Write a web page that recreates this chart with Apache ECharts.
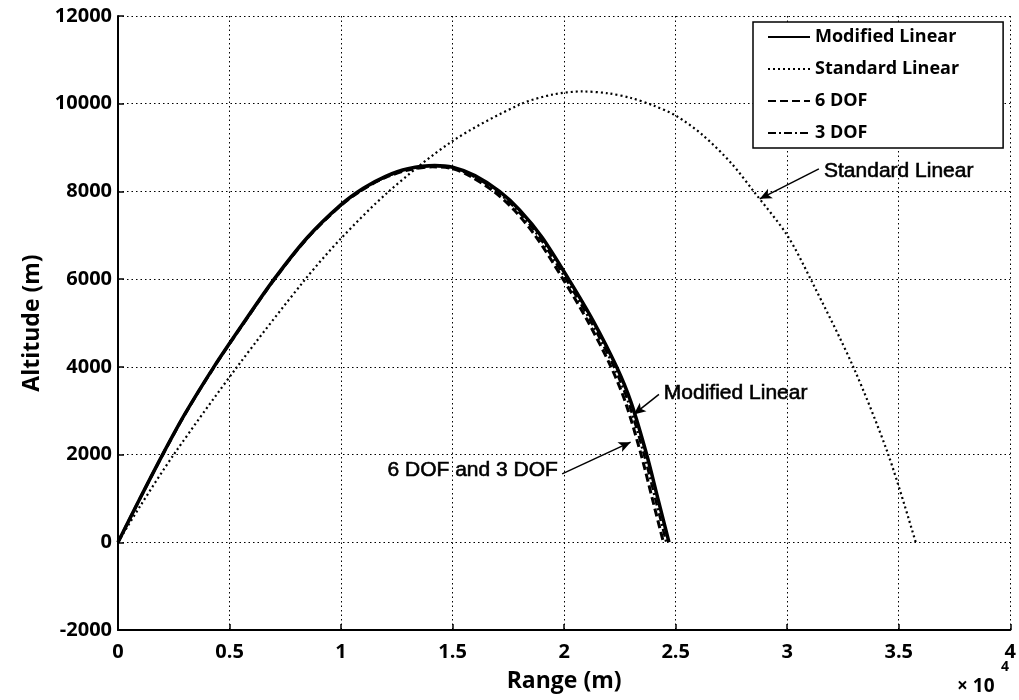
<!DOCTYPE html>
<html>
<head>
<meta charset="utf-8">
<script src="https://cdn.jsdelivr.net/npm/echarts@6/dist/echarts.min.js"></script>
<style>
  html, body { margin: 0; padding: 0; background: #fff; }
  #chart { width: 1019px; height: 700px; }
</style>
</head>
<body>
<div id="chart"></div>
<script>
// range in units of 10^4 m, altitude in m
var modifiedLinear = [
  [0, 0], [0.1, 1015], [0.2, 2000], [0.3, 2927], [0.43, 4000], [0.55, 4908],
  [0.7, 6000], [0.85, 6956], [1.0, 7700], [1.1, 8073], [1.2, 8345], [1.3, 8516],
  [1.42, 8590], [1.5, 8550], [1.6, 8360], [1.71, 8000], [1.8, 7580], [1.9, 6960],
  [2.02, 6000], [2.13, 5050], [2.235, 4000], [2.3, 3190], [2.37, 2000], [2.42, 1000],
  [2.47, 0]
];
var standardLinear = [
  [0, 0], [0.1, 830], [0.25, 2000], [0.534, 4000], [0.84, 6000], [1.0, 6930],
  [1.214, 8000], [1.5, 9150], [1.8, 9980], [1.95, 10210], [2.08, 10280], [2.2, 10235],
  [2.3, 10130], [2.4, 9960], [2.5, 9730], [2.62, 9290], [2.75, 8640], [2.85, 8000],
  [3.0, 7000], [3.105, 6000], [3.296, 4000], [3.453, 2000], [3.576, 0]
];
var sixDof = [
  [0, 0], [0.1, 1012], [0.2, 1995], [0.3, 2920], [0.43, 3992], [0.55, 4898],
  [0.7, 5988], [0.85, 6942], [1.0, 7684], [1.1, 8052], [1.2, 8320], [1.3, 8488],
  [1.41, 8560], [1.5, 8520], [1.575, 8360], [1.685, 8000], [1.775, 7580], [1.875, 6960],
  [1.995, 6000], [2.105, 5050], [2.21, 4000], [2.275, 3190], [2.345, 2000], [2.395, 1000],
  [2.445, 0]
];
var threeDof = [
  [0, 0], [0.1, 1013], [0.2, 1997], [0.3, 2923], [0.43, 3995], [0.55, 4902],
  [0.7, 5993], [0.85, 6948], [1.0, 7690], [1.1, 8060], [1.2, 8330], [1.3, 8500],
  [1.415, 8575], [1.5, 8535], [1.588, 8360], [1.698, 8000], [1.788, 7580], [1.888, 6960],
  [2.008, 6000], [2.118, 5050], [2.223, 4000], [2.288, 3190], [2.358, 2000], [2.408, 1000],
  [2.458, 0]
];
var xTicks = [0, 4, 0.5];
var yTicks = [-2000, 12000, 2000];

// annotation texts and arrows
var notes = [
  { name: 'Standard Linear', value: [3.156, 8470], pos: 'right' },
  { name: 'Modified Linear', value: [2.438, 3400], pos: 'right' },
  { name: '6 DOF and 3 DOF', value: [1.981, 1640], pos: 'left' }
];
var arrows = [
  [[3.142, 8516], [2.877, 7831]],
  [[2.425, 3372], [2.312, 2915]],
  [[1.991, 1559], [2.298, 2283]]
];

var chart = echarts.init(document.getElementById('chart'));
var tickFont = { fontFamily: 'Open Sans', fontWeight: 'bold', fontSize: 20, color: '#000' };
var noteFont = {
  color: '#000', opacity: 1, fontFamily: 'Liberation Sans', fontSize: 21,
  textBorderColor: '#000', textBorderWidth: 0.6
};

var option = {
  animation: false,
  backgroundColor: '#fff',
  grid: { left: 118, right: 7, top: 16, bottom: 70, containLabel: false },
  legend: {
    orient: 'vertical',
    left: 753,
    top: 22,
    data: ['Modified Linear', 'Standard Linear', '6 DOF', '3 DOF'],
    backgroundColor: '#fff',
    borderColor: '#000',
    borderWidth: 1.5,
    borderRadius: 0,
    padding: [6, 44, 6, 14],
    itemWidth: 42,
    itemHeight: 14,
    itemGap: 14,
    itemStyle: { opacity: 0 },
    textStyle: { fontFamily: 'Open Sans', fontWeight: 'bold', fontSize: 18, color: '#000' }
  },
  xAxis: {
    type: 'value',
    min: xTicks[0], max: xTicks[1], interval: xTicks[2],
    name: 'Range (m)',
    nameLocation: 'middle',
    nameGap: 40,
    nameTextStyle: { fontFamily: 'Open Sans', fontWeight: 'bold', fontSize: 23, color: '#000' },
    axisLine: { onZero: false, lineStyle: { color: '#000', width: 2 } },
    axisTick: { inside: true, length: 6, lineStyle: { color: '#000', width: 1.5 } },
    axisLabel: Object.assign({ margin: 12 }, tickFont),
    splitLine: { show: true, lineStyle: { color: '#000', width: 1, type: [1.5, 3] } }
  },
  yAxis: {
    type: 'value',
    min: yTicks[0], max: yTicks[1], interval: yTicks[2],
    name: 'Altitude (m)',
    nameLocation: 'middle',
    nameGap: 74,
    nameTextStyle: { fontFamily: 'Open Sans', fontWeight: 'bold', fontSize: 23, color: '#000' },
    axisLine: { show: true, onZero: false, lineStyle: { color: '#000', width: 2 } },
    axisTick: { show: true, inside: true, length: 6, lineStyle: { color: '#000', width: 1.5 } },
    axisLabel: Object.assign({ margin: 6, formatter: function (v) { return String(v); } }, tickFont),
    splitLine: { show: true, lineStyle: { color: '#000', width: 1, type: [1.5, 3] } }
  },
  series: [
    {
      name: 'Modified Linear', type: 'line', data: modifiedLinear,
      smooth: 0.3, showSymbol: false, symbol: 'none', color: '#000',
      lineStyle: { color: '#000', width: 3.5, type: 'solid' }, z: 3
    },
    {
      name: 'Standard Linear', type: 'line', data: standardLinear,
      smooth: 0.3, showSymbol: false, symbol: 'none', color: '#000',
      lineStyle: { color: '#000', width: 2.2, type: [2, 3] }, z: 3
    },
    {
      name: '6 DOF', type: 'line', data: sixDof,
      smooth: 0.3, showSymbol: false, symbol: 'none', color: '#000',
      lineStyle: { color: '#000', width: 3, type: [8, 4] }, z: 4
    },
    {
      name: '3 DOF', type: 'line', data: threeDof,
      smooth: 0.3, showSymbol: false, symbol: 'none', color: '#000',
      lineStyle: { color: '#000', width: 2.5, type: [8, 3, 2, 3] }, z: 4
    },
    {
      name: 'notes', type: 'scatter', symbolSize: 0, silent: true, z: 6,
      itemStyle: { color: '#000', opacity: 1 },
      data: notes.map(function (n) {
        return {
          name: n.name, value: n.value,
          label: Object.assign({ position: n.pos }, noteFont)
        };
      }),
      label: Object.assign({ show: true, formatter: '{b}', distance: 2 }, noteFont),
      markLine: {
        silent: true,
        symbol: ['none', 'arrow'],
        symbolSize: [8, 12],
        label: { show: false },
        lineStyle: { color: '#000', width: 1.5, type: 'solid', opacity: 1 },
        data: arrows.map(function (a) {
          return [{ coord: a[0] }, { coord: a[1] }];
        })
      }
    }
  ],
  graphic: [
    {
      type: 'text', left: 957, top: 677,
      style: { text: '× 10', fontFamily: 'Open Sans', fontWeight: 'bold', fontSize: 19, fill: '#000' }
    },
    {
      type: 'text', left: 1001, top: 660,
      style: { text: '4', fontFamily: 'Open Sans', fontWeight: 'bold', fontSize: 14, fill: '#000' }
    }
  ]
};
chart.setOption(option);
</script>
</body>
</html>
